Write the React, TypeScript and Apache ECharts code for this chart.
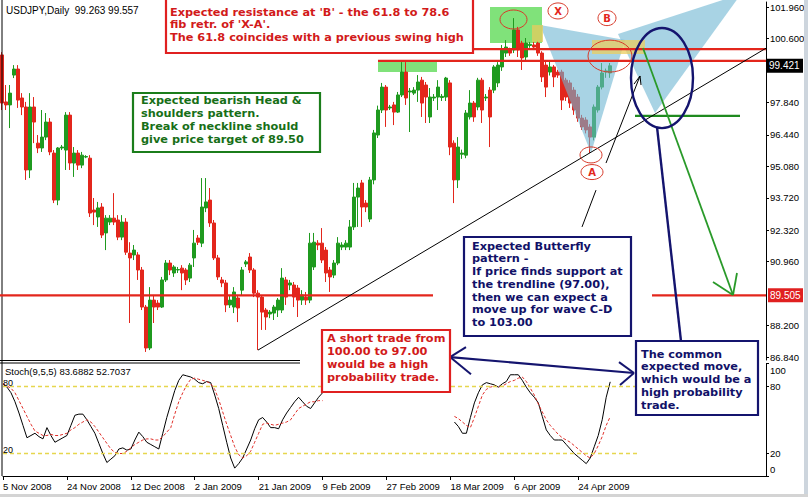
import React, { useEffect, useRef } from 'react';
import * as echarts from 'echarts';

// ---------- DATA ----------
const tickLabels = ['5 Nov 2008', '24 Nov 2008', '12 Dec 2008', '2 Jan 2009', '21 Jan 2009', '9 Feb 2009', '27 Feb 2009', '18 Mar 2009', '6 Apr 2009', '24 Apr 2009'];

const opens = [99.89, 97.86, 97.73, 99.02, 99.28, 98.03, 97.64, 94.92, 97.64, 96.08, 95.87, 96.34, 96.99, 95.65, 93.62, 95.87, 95.78, 97.29, 95.22, 95.65,
  95.13, 95.48, 95.43, 93.19, 92.89, 93.32, 92.20, 92.67, 92.84, 92.76, 92.02, 92.67, 91.33, 91.25, 91.25, 90.60, 89.00, 87.23, 89.30, 89.17,
  89.00, 90.17, 90.90, 90.47, 90.60, 90.68, 90.60, 90.25, 91.12, 91.98, 91.76, 93.28, 93.62, 92.63, 91.12, 90.17, 90.04, 89.09, 89.00, 89.39,
  89.73, 90.86, 91.16, 90.60, 89.60, 89.43, 88.87, 88.70, 88.74, 88.87, 88.87, 90.17, 89.95, 89.95, 89.82, 89.30, 89.43, 89.30, 90.73, 91.76,
  91.76, 91.46, 90.60, 90.38, 90.90, 91.59, 91.59, 91.59, 92.46, 93.75, 94.36, 93.49, 92.80, 94.49, 96.43, 97.51, 98.50, 97.60, 97.73, 97.42,
  98.16, 99.15, 98.29, 98.24, 98.37, 98.80, 98.59, 97.21, 98.03, 98.07, 98.05, 98.07, 98.68, 96.08, 94.49, 95.60, 95.56, 97.21, 97.81, 97.64,
  98.80, 98.03, 98.37, 98.37, 98.68, 99.37, 99.97, 100.10, 100.10, 100.97, 100.40, 99.80, 100.30, 100.32, 100.40, 99.97, 99.45, 99.15, 99.37, 99.15,
  99.15, 98.80, 98.68, 98.37, 98.07, 97.16, 97.08, 96.78, 96.34, 97.51, 98.50, 99.15, 99.11];
const closes = [97.81, 97.73, 98.24, 99.28, 97.94, 97.64, 94.92, 97.64, 96.99, 95.87, 96.34, 96.99, 95.70, 93.62, 95.87, 95.91, 97.29, 95.22, 95.65, 95.13,
  95.56, 95.50, 93.06, 93.10, 93.28, 92.11, 92.84, 92.84, 92.67, 92.02, 92.67, 91.37, 91.12, 91.46, 90.60, 89.00, 87.23, 89.30, 89.00, 89.00,
  90.17, 90.90, 90.60, 90.73, 90.62, 90.47, 90.17, 90.81, 91.76, 91.80, 93.32, 93.54, 92.63, 91.12, 90.30, 90.04, 89.09, 89.30, 89.65, 88.96,
  90.60, 90.95, 90.60, 89.60, 89.43, 88.78, 88.57, 88.78, 89.00, 89.30, 90.25, 89.43, 90.04, 89.43, 89.30, 89.52, 89.30, 91.76, 91.80, 91.68,
  91.03, 90.47, 90.30, 90.90, 91.76, 91.68, 91.76, 92.46, 93.75, 94.14, 93.32, 93.32, 94.49, 96.52, 97.51, 98.50, 97.51, 97.64, 97.42, 98.16,
  99.15, 98.03, 98.33, 98.37, 98.72, 97.81, 98.07, 98.07, 98.07, 98.50, 98.10, 98.89, 95.91, 94.49, 95.91, 95.65, 97.38, 97.81, 97.21, 98.80,
  97.51, 98.07, 97.21, 99.37, 99.45, 100.10, 100.23, 99.97, 100.97, 100.10, 99.76, 100.40, 100.35, 100.23, 99.97, 98.94, 98.50, 99.37, 98.94, 99.02,
  97.94, 98.07, 97.81, 97.51, 97.16, 96.78, 96.65, 96.34, 97.64, 98.50, 99.11, 99.20, 99.42];
const lows = [97.51, 97.51, 96.73, 98.89, 97.60, 97.29, 94.49, 94.57, 96.08, 95.65, 95.70, 96.21, 95.56, 93.49, 93.40, 95.78, 94.92, 94.92, 94.62, 94.92,
  95.00, 95.43, 92.89, 92.54, 92.46, 91.98, 91.46, 92.54, 92.54, 91.89, 91.89, 91.25, 88.31, 91.03, 90.17, 88.87, 87.06, 87.14, 88.31, 88.87,
  88.96, 90.08, 90.38, 90.30, 90.47, 89.73, 89.95, 90.08, 90.73, 91.68, 91.59, 93.10, 92.46, 91.03, 90.17, 89.86, 88.78, 88.96, 88.74, 88.35,
  89.52, 90.73, 90.47, 89.43, 87.14, 88.01, 88.01, 88.52, 88.44, 88.57, 88.74, 89.09, 89.73, 89.00, 88.57, 89.09, 89.09, 89.17, 90.60, 91.46,
  90.90, 90.08, 89.65, 90.25, 90.81, 91.46, 91.46, 91.46, 92.33, 92.46, 92.46, 93.10, 92.67, 94.30, 96.30, 97.38, 96.78, 97.51, 96.86, 97.38,
  98.07, 97.73, 96.56, 98.16, 97.86, 97.21, 96.95, 96.95, 97.90, 97.51, 97.90, 97.90, 95.56, 93.49, 94.14, 95.40, 95.43, 97.10, 97.00, 97.50,
  96.95, 97.90, 95.91, 98.24, 98.50, 99.20, 99.80, 99.85, 99.97, 99.80, 99.24, 99.60, 100.20, 100.10, 99.85, 98.72, 98.07, 99.00, 98.50, 98.90,
  97.51, 97.90, 97.60, 97.30, 97.00, 96.65, 96.50, 95.65, 96.20, 97.40, 98.40, 98.90, 98.90];
const highs = [100.01, 98.59, 98.59, 99.45, 99.45, 98.24, 97.86, 98.24, 98.07, 96.43, 97.51, 97.38, 97.16, 95.78, 95.91, 96.00, 97.42, 97.42, 95.91, 95.78,
  95.70, 95.56, 95.56, 93.71, 93.54, 93.49, 92.97, 92.97, 93.92, 92.97, 92.97, 92.84, 91.80, 91.68, 91.37, 90.73, 89.09, 89.86, 89.52, 89.30,
  90.30, 91.03, 91.03, 90.81, 90.73, 90.81, 90.68, 90.90, 92.33, 92.11, 94.57, 94.57, 94.14, 92.76, 91.25, 90.30, 90.17, 89.52, 89.86, 89.52,
  90.73, 91.03, 91.33, 90.68, 89.73, 89.52, 88.96, 88.87, 89.09, 89.39, 90.68, 90.30, 90.17, 90.08, 89.95, 89.73, 89.65, 92.20, 92.20, 91.89,
  92.41, 91.59, 90.73, 91.03, 92.02, 91.80, 91.89, 92.76, 94.36, 94.36, 94.49, 93.62, 94.62, 96.65, 97.70, 98.68, 98.59, 97.73, 97.86, 98.29,
  99.58, 99.58, 98.46, 98.50, 99.02, 98.94, 98.72, 98.46, 98.20, 98.80, 98.20, 98.94, 98.80, 96.20, 96.34, 95.80, 97.51, 98.37, 97.90, 98.90,
  98.90, 98.20, 98.50, 99.45, 99.58, 100.32, 100.53, 100.20, 101.48, 101.10, 100.50, 100.62, 100.45, 100.45, 100.50, 100.05, 99.60, 99.67, 99.45, 99.25,
  99.25, 98.90, 98.80, 98.50, 98.20, 97.30, 97.20, 96.90, 97.75, 98.59, 99.54, 99.30, 99.54];

const stochK = [82, 79, 74, 66, 56, 45, 34, 36, 38, 35, 33, 43, 36, 30, 32, 34, 36, 45, 54, 55,
  55, 50, 44, 38, 29, 20, 12, 15, 18, 24, 25, 23, 24, 32, 39, 35, 30, 28, 26, 24,
  38, 52, 64, 76, 85, 90, 89, 88, 86, 83, 82, 84, 83, 72, 60, 45, 30, 16, 7, 11,
  16, 24, 32, 42, 50, 52, 48, 43, 43, 42, 50, 56, 61, 66, 70, 66, 62, 60, 65, 70,
  74, null, null, null, null, null, null, null, null, null, null, null, null, null, null, null, null, null, null, null,
  null, null, null, null, null, null, null, null, null, null, null, null, null, 48, 44, 38, 38, 52, 65, 74,
  81, 83, 82, 81, 79, 82, 84, 90, 90, 90, 85, 79, 74, 70, 65, 53, 41, 36, 32, 32,
  32, 28, 24, 20, 17, 14, 11, 16, 26, 36, 50, 70, 83.6882];
const stochD = [82, 80, 78, 74, 67, 60, 53, 46, 40, 38, 36, 36, 37, 36, 36, 37, 38, 41, 43, 46,
  48, 50, 48, 44, 39, 34, 29, 24, 21, 20, 20, 22, 25, 28, 30, 32, 33, 33, 32, 32,
  35, 39, 43, 55, 66, 74, 81, 86, 87, 86, 85, 84, 82, 77, 68, 57, 46, 36, 26, 19,
  16, 18, 22, 30, 38, 46, 47, 46, 45, 46, 47, 48, 50, 55, 60, 62, 64, 66, 66, 67,
  67, null, null, null, null, null, null, null, null, null, null, null, null, null, null, null, null, null, null, null,
  null, null, null, null, null, null, null, null, null, null, null, null, null, 53, 51, 48, 45, 43, 52, 62,
  72, 77, 79, 80, 79, 80, 82, 84, 85, 87, 88, 84, 78, 72, 64, 57, 50, 45, 41, 37,
  34, 32, 30, 27, 24, 21, 18, 16, 20, 27, 35, 45, 52.7037];

const priceTicks = [101.96, 100.6, 99.28, 97.84, 96.44, 95.08, 93.72, 92.32, 90.96, 88.2, 86.84];
const priceLabels = [101.96, 100.6, 97.84, 96.44, 95.08, 93.72, 92.32, 90.96, 88.2, 86.84];
const stochTicks = [0, 20, 80, 100];
const lastPrice = 99.421;
const targetPrice = 89.505;

// ---------- CALENDAR (bar dates, Saturdays & 25 Dec / 1 Jan skipped) ----------
const MONTHS = ['Jan', 'Feb', 'Mar', 'Apr', 'May', 'Jun', 'Jul', 'Aug', 'Sep', 'Oct', 'Nov', 'Dec'];
function buildDates(n: number): string[] {
  const out: string[] = [];
  const d = new Date(Date.UTC(2008, 10, 5));
  while (out.length < n) {
    const dow = d.getUTCDay();
    const m = d.getUTCMonth();
    const day = d.getUTCDate();
    const holiday = (m === 11 && day === 25) || (m === 0 && day === 1);
    if (dow !== 6 && !holiday) out.push(`${day} ${MONTHS[m]} ${d.getUTCFullYear()}`);
    d.setUTCDate(d.getUTCDate() + 1);
  }
  return out;
}
const SLOTS = 192;
const cats = buildDates(SLOTS);

// ---------- STYLE ----------
const GREEN = '#1f9a1f';
const RED = '#e3261c';
const NAVY = '#14146e';
const AXIS_FONT = '"Liberation Sans", Arial, sans-serif';
const BOX_FONT = 'bold 11.3px "DejaVu Sans", Verdana, sans-serif';

export default function App() {
  const ref = useRef<HTMLDivElement>(null);
  useEffect(() => {
    document.body.style.margin = '0';
    const chart = echarts.init(ref.current!, undefined, { renderer: 'svg' });
    const candles = opens.map((o, i) => [o, closes[i], lows[i], highs[i]]);
    const option: any = {
      animation: false,
      backgroundColor: '#ffffff',
      grid: [
        { left: 2, top: 2, width: 764, height: 358 },
        { left: 2, top: 363.5, width: 764, height: 112.5 },
      ],
      xAxis: [
        { type: 'category', gridIndex: 0, data: cats, boundaryGap: false, axisLine: { show: false }, axisTick: { show: false }, axisLabel: { show: false }, splitLine: { show: false } },
        {
          type: 'category', gridIndex: 1, data: cats, boundaryGap: false,
          axisLine: { show: true, lineStyle: { color: '#000', width: 1 } },
          axisTick: { show: true, interval: (i: number, v: string) => tickLabels.includes(v), length: 4, lineStyle: { color: '#000' } },
          axisLabel: { interval: (i: number, v: string) => tickLabels.includes(v), align: 'left', margin: 5, color: '#000', fontSize: 9.5, fontFamily: AXIS_FONT },
          splitLine: { show: false },
        },
      ],
      yAxis: [
        {
          type: 'value', gridIndex: 0, position: 'right', min: 86.712, max: 102.176,
          axisLine: { show: true, lineStyle: { color: '#000' } },
          axisTick: { show: true, customValues: priceTicks, length: 3, lineStyle: { color: '#000' } },
          axisLabel: { customValues: priceLabels, formatter: (v: number) => v.toFixed(3), margin: 4, color: '#000', fontSize: 9.5, fontFamily: AXIS_FONT },
          splitLine: { show: false },
        },
        {
          type: 'value', gridIndex: 1, position: 'right', min: 0, max: 100,
          axisLine: { show: true, lineStyle: { color: '#000' } },
          axisTick: { show: true, customValues: stochTicks, length: 3, lineStyle: { color: '#000' } },
          axisLabel: {
            customValues: stochTicks, margin: 4, color: '#000', fontSize: 9.5, fontFamily: AXIS_FONT,
            formatter: (v: number) => (v === 100 ? '{t|100}' : v === 0 ? '{b|0}' : String(v)),
            rich: {
              t: { padding: [14, 0, 0, 0], fontSize: 9.5, fontFamily: AXIS_FONT, color: '#000' },
              b: { padding: [0, 0, 14, 0], fontSize: 9.5, fontFamily: AXIS_FONT, color: '#000' },
            },
          },
          splitLine: { show: false },
        },
      ],
      series: [
        {
          type: 'candlestick', xAxisIndex: 0, yAxisIndex: 0, data: candles, barWidth: 3,
          itemStyle: { color: GREEN, color0: RED, borderColor: GREEN, borderColor0: RED, borderWidth: 1 },
        },
        {
          type: 'line', xAxisIndex: 1, yAxisIndex: 1, data: stochK, symbol: 'none', connectNulls: false,
          lineStyle: { color: '#000', width: 1 },
          markLine: {
            silent: true, symbol: ['none', 'none'],
            lineStyle: { color: '#e6d64e', type: [4, 3], width: 1.4 },
            label: { show: true, position: 'insideStartTop', formatter: (p: any) => p.name, color: '#000', fontSize: 9, fontFamily: AXIS_FONT, distance: [0, -1] },
            data: [
              [{ coord: [cats[0], 80], name: '80' }, { coord: [cats[159], 80] }],
              [{ coord: [cats[0], 20], name: '20' }, { coord: [cats[159], 20] }],
            ],
          },
        },
        {
          type: 'line', xAxisIndex: 1, yAxisIndex: 1, data: stochD, symbol: 'none', connectNulls: false,
          lineStyle: { color: '#e0302a', width: 1, type: [3, 2] },
        },
      ],
    };
    chart.setOption(option);

    // --- annotation helpers (bar index, price) -> pixel via the chart's own scales
    const a = chart.convertToPixel({ xAxisIndex: 0, yAxisIndex: 0 }, [0, 100]) as number[];
    const b = chart.convertToPixel({ xAxisIndex: 0, yAxisIndex: 0 }, [1, 90]) as number[];
    const dx = b[0] - a[0];
    const dyp = (b[1] - a[1]) / (90 - 100);
    const X = (i: number) => a[0] + i * dx;
    const Y = (p: number) => a[1] + (p - 100) * dyp;
    const P = (i: number, p: number) => [X(i), Y(p)];

    const els: any[] = [];
    const line = (p1: number[], p2: number[], stroke: string, w: number, z = 60) =>
      els.push({ type: 'line', silent: true, z, shape: { x1: p1[0], y1: p1[1], x2: p2[0], y2: p2[1] }, style: { stroke, lineWidth: w } });
    const rectD = (i0: number, i1: number, p0: number, p1: number, fill: string, z: number) =>
      els.push({ type: 'rect', silent: true, z, shape: { x: X(i0), y: Y(p0), width: X(i1) - X(i0), height: Y(p1) - Y(p0) }, style: { fill } });
    const ell = (ci: number, cp: number, ri: number, rp: number, stroke: string, w: number, z = 70, label?: string) => {
      els.push({ type: 'ellipse', silent: true, z, shape: { cx: X(ci), cy: Y(cp), rx: X(ci + ri) - X(ci), ry: Y(cp - rp) - Y(cp) }, style: { fill: 'none', stroke, lineWidth: w } });
      if (label) els.push({ type: 'text', silent: true, z, x: X(ci), y: Y(cp) + 0.5, style: { text: label, fill: RED, font: 'bold 10px "DejaVu Sans", sans-serif', align: 'center', verticalAlign: 'middle' } });
    };
    const box = (x: number, y: number, w: number, h: number, stroke: string, color: string, text: string, tx: number, ty: number, lh: number) => {
      els.push({ type: 'rect', silent: true, z: 90, shape: { x, y, width: w, height: h }, style: { fill: '#fff', stroke, lineWidth: 2.2 } });
      els.push({ type: 'text', silent: true, z: 91, x: tx, y: ty, style: { text, fill: color, font: BOX_FONT, lineHeight: lh, align: 'left', verticalAlign: 'top' } });
    };

    // pattern zones
    rectD(122, 135, 101.96, 100.40, '#80e27a', 1);
    rectD(94, 108.75, 99.63, 99.15, '#80e27a', 1);
    els.push({ type: 'polygon', silent: true, z: 50, shape: { points: [P(134.5, 101.18), P(147.25, 95.65), P(155.75, 100.53)] }, style: { fill: 'rgba(110,182,210,0.6)' } });
    els.push({ type: 'polygon', silent: true, z: 50, shape: { points: [P(154, 100.79), P(184.75, 102.52), P(163.25, 97.38)] }, style: { fill: 'rgba(110,182,210,0.6)' } });
    rectD(132.5, 135.25, 101.18, 100.45, 'rgba(225,205,95,0.8)', 52);
    rectD(147.5, 160.75, 100.53, 99.93, 'rgba(235,205,95,0.75)', 52);

    // horizontal levels
    line(P(117.75, 100.14), P(191, 100.14), RED, 2.2);
    line(P(94, 99.63), P(191, 99.63), RED, 2.2);
    line(P(-0.5, targetPrice), P(107.75, targetPrice), RED, 2.2);
    line(P(162.5, targetPrice), P(191, targetPrice), RED, 2.2);
    line(P(158.25, 97.26), P(184.5, 97.26), '#1f8a1f', 2.2);

    // trendline
    line(P(64, 87.14), P(191, 100.18), '#000', 1);

    // green projection arrow
    line(P(160.25, 100.19), P(182.75, 89.52), '#2a9a2a', 1.8);
    line(P(182.75, 89.52), P(177.75, 90.08), '#2a9a2a', 1.8);
    line(P(182.75, 89.52), P(183.75, 90.47), '#2a9a2a', 1.8);

    // thin black pointer from butterfly box
    line(P(145, 92.46), P(148.5, 94.05), '#000', 1);
    line(P(151, 95.22), P(159.5, 98.98), '#000', 1);
    line(P(159.5, 98.98), P(158, 98.63), '#000', 1);
    line(P(159.5, 98.98), P(159.75, 98.59), '#000', 1);

    // ellipses
    ell(127.875, 101.42, 3.375, 0.41, '#d83a2a', 1);
    ell(139, 101.79, 2.5, 0.346, '#d83a2a', 1, 70, 'X');
    ell(151.25, 101.48, 2.25, 0.324, '#d83a2a', 1, 70, 'B');
    ell(152, 99.84, 5.5, 0.69, '#d83a2a', 1);
    ell(147.25, 95.57, 2.75, 0.346, '#d83a2a', 1);
    ell(147.5, 94.83, 2.75, 0.324, '#d83a2a', 1, 70, 'A');
    ell(165, 98.89, 7.75, 2.16, NAVY, 2.4);

    // navy connectors
    line(P(163.75, 96.78), P(169.75, 87.53), NAVY, 2.4);
    line(P(112, 86.84), P(158, 86.15), NAVY, 2.2);
    line(P(112, 86.84), P(116, 87.27), NAVY, 2);
    line(P(112, 86.84), P(117.25, 86.1), NAVY, 2);
    line(P(158, 86.15), P(154.25, 86.62), NAVY, 2);
    line(P(158, 86.15), P(154.5, 85.63), NAVY, 2);

    // text boxes
    box(166, -2, 307, 55, '#e02020', '#d21a1a', "Expected resistance at 'B' - the 61.8 to 78.6\nfib retr. of 'X-A'.\nThe 61.8 coincides with a previous swing high", 170, 5.8, 12.5);
    box(133, 93, 187, 59, '#1b7d1b', '#176f17', 'Expected bearish Head &\nshoulders pattern.\nBreak of neckline should\ngive price target of 89.50', 141, 94.6, 12.7);
    box(464, 237, 167, 99, NAVY, '#111168', 'Expected Butterfly\npattern -\nIf price finds support at\nthe trendline (97.00),\nthen we can expect a\nmove up for wave C-D\nto 103.00', 472, 239.6, 12.8);
    box(322, 330, 128, 62, '#e02020', '#d21a1a', 'A short trade from\n100.00 to 97.00\nwould be a high\nprobability trade.', 327, 332.6, 12.7);
    box(636, 341, 122, 74, NAVY, '#111168', 'The common\nexpected move,\nwhich would be a\nhigh probability\ntrade.', 641, 347.6, 12.8);

    // price labels on the axis
    const ax = X(191);
    els.push({ type: 'rect', silent: true, z: 95, shape: { x: ax, y: Y(lastPrice) - 7, width: 37, height: 14 }, style: { fill: '#000' } });
    els.push({ type: 'text', silent: true, z: 96, x: ax + 3, y: Y(lastPrice), style: { text: lastPrice.toFixed(3), fill: '#fff', font: `10px ${AXIS_FONT}`, verticalAlign: 'middle' } });
    els.push({ type: 'rect', silent: true, z: 95, shape: { x: ax + 2, y: Y(targetPrice) - 7, width: 35, height: 14 }, style: { fill: '#e02020' } });
    els.push({ type: 'text', silent: true, z: 96, x: ax + 4, y: Y(targetPrice), style: { text: targetPrice.toFixed(3), fill: '#fff', font: `10px ${AXIS_FONT}`, verticalAlign: 'middle' } });

    // frame & titles
    els.push({ type: 'line', silent: true, z: 40, shape: { x1: 2, y1: 0, x2: 2, y2: 476 }, style: { stroke: '#000', lineWidth: 1 } });
    els.push({ type: 'line', silent: true, z: 40, shape: { x1: 0, y1: 360.5, x2: 300, y2: 360.5 }, style: { stroke: '#000', lineWidth: 1 } });
    els.push({ type: 'line', silent: true, z: 40, shape: { x1: 0, y1: 363, x2: 300, y2: 363 }, style: { stroke: '#000', lineWidth: 1 } });
    els.push({ type: 'rect', silent: true, z: 40, shape: { x: 804, y: 0, width: 4, height: 497 }, style: { fill: '#cdd5dd' } });
    els.push({ type: 'rect', silent: true, z: 40, shape: { x: 0, y: 494, width: 808, height: 3 }, style: { fill: '#d4d4d4' } });
    els.push({ type: 'text', silent: true, z: 97, x: 6, y: 10, style: { text: 'USDJPY,Daily  99.263 99.557', fill: '#000', font: `10px ${AXIS_FONT}`, verticalAlign: 'middle' } });
    els.push({ type: 'text', silent: true, z: 97, x: 5, y: 371.5, style: { text: 'Stoch(9,5,5) 83.6882 52.7037', fill: '#000', font: `9.5px ${AXIS_FONT}`, verticalAlign: 'middle' } });

    chart.setOption({ graphic: { elements: els } });
    return () => chart.dispose();
  }, []);
  return <div ref={ref} style={{ width: 808, height: 497 }} />;
}
